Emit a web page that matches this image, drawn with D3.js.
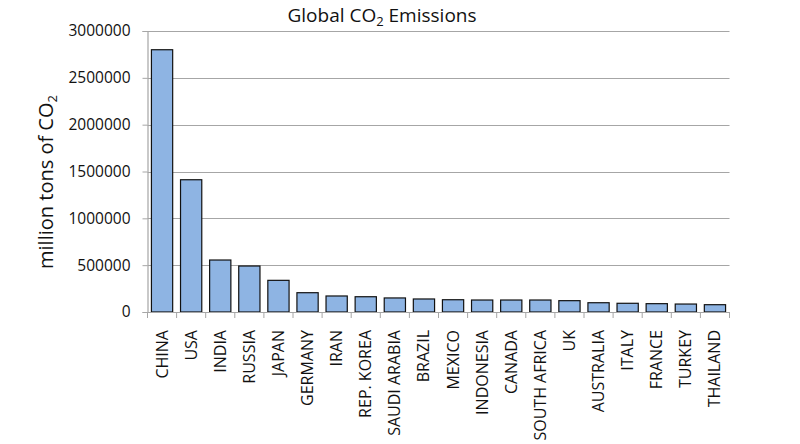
<!DOCTYPE html>
<html><head><meta charset="utf-8">
<script src="https://cdn.jsdelivr.net/npm/d3@7"></script>
<style>
body{margin:0;background:#fff;}
svg{display:block;font-family:"Open Sans",sans-serif;}
</style></head><body>
<svg id="c" width="800" height="444"></svg>
<script>
const categories = ["CHINA","USA","INDIA","RUSSIA","JAPAN","GERMANY","IRAN","REP. KOREA","SAUDI ARABIA","BRAZIL","MEXICO","INDONESIA","CANADA","SOUTH AFRICA","UK","AUSTRALIA","ITALY","FRANCE","TURKEY","THAILAND"];
const emissions = [2800000,1412000,555000,491000,338000,206000,171000,163000,150000,139000,131000,128000,128000,128000,121000,99000,93000,89000,85000,78000];
const yTicks = [0,500000,1000000,1500000,2000000,2500000,3000000];

const svg = d3.select("#c");
const L=147.5, R=729.5, T=31, B=312;
const x = d3.scaleBand().domain(categories).range([L,R]).paddingInner(0.27).paddingOuter(0.135);
const y = d3.scaleLinear().domain([0,3000000]).range([B,T]);

// gridlines
svg.append("g").selectAll("line").data(yTicks.filter(d=>d>0)).join("line")
  .attr("x1",L).attr("x2",R).attr("y1",d=>Math.round(y(d))+0.5).attr("y2",d=>Math.round(y(d))+0.5)
  .attr("stroke","#a6a6a6").attr("stroke-width",1.2);

// y axis
const ya = svg.append("g").attr("transform",`translate(${L},0)`)
  .call(d3.axisLeft(y).tickValues(yTicks).tickSize(5).tickPadding(12).tickFormat(d3.format("d")));
ya.select(".domain").attr("stroke","#a6a6a6").attr("stroke-width",1.2);
ya.selectAll(".tick line").attr("stroke","#a6a6a6");
ya.selectAll(".tick text").attr("font-size",15.5).attr("fill","#111").attr("font-family","Open Sans");

// bars
svg.append("g").selectAll("rect").data(categories).join("rect")
  .attr("x",d=>x(d)).attr("width",x.bandwidth())
  .attr("y",(d,i)=>y(emissions[i])).attr("height",(d,i)=>B-y(emissions[i]))
  .attr("fill","#8eb4e3").attr("stroke","#111").attr("stroke-width",1.2);

// x axis
const step = (R-L)/categories.length;
const xa = svg.append("g").attr("transform",`translate(0,${B})`);
xa.append("line").attr("x1",L).attr("x2",R).attr("y1",0.5).attr("y2",0.5).attr("stroke","#a6a6a6").attr("stroke-width",1.2);
xa.selectAll(".tk").data(d3.range(categories.length+1)).join("line").attr("class","tk")
  .attr("x1",i=>L+i*step).attr("x2",i=>L+i*step).attr("y1",0).attr("y2",6).attr("stroke","#a6a6a6");
xa.selectAll("text").data(categories).join("text")
  .attr("transform",d=>`translate(${x(d)+x.bandwidth()/2+5.5},18) rotate(-90)`)
  .attr("text-anchor","end").attr("font-size",16).attr("fill","#111").text(d=>d);

// title
const t = svg.append("text").attr("x",382).attr("y",22).attr("text-anchor","middle").attr("font-size",19).attr("fill","#111");
t.append("tspan").text("Global CO");
t.append("tspan").attr("font-size",13).attr("dy",4).text("2");
t.append("tspan").attr("dy",-4).text(" Emissions");

// y label
const yl = svg.append("text").attr("transform","translate(53,182) rotate(-90)").attr("text-anchor","middle").attr("font-size",20).attr("fill","#111");
yl.append("tspan").text("million tons of CO");
yl.append("tspan").attr("font-size",13).attr("dy",4).text("2");
</script>
</body></html>
